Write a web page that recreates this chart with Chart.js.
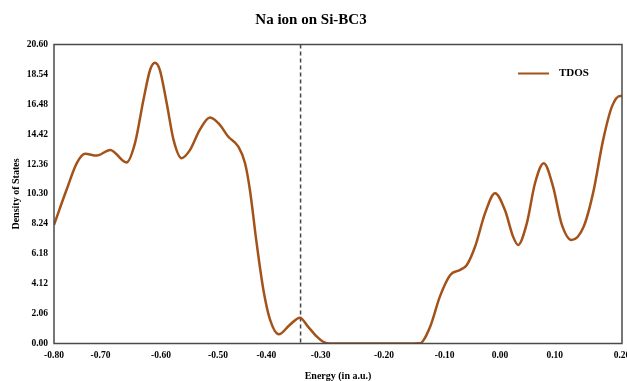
<!DOCTYPE html>
<html>
<head>
<meta charset="utf-8">
<title>Na ion on Si-BC3</title>
<script src="https://cdn.jsdelivr.net/npm/chart.js@4.4.1/dist/chart.umd.min.js"></script>
<style>
  html, body { margin: 0; padding: 0; background: #fff; }
  #wrap { width: 627px; height: 381px; }
</style>
</head>
<body>
<div id="wrap"><canvas id="dos" width="627" height="381"></canvas></div>
<script>
// energy (a.u.) and total DOS
const energy = [-0.800, -0.773, -0.751, -0.733, -0.708, -0.684, -0.657, -0.643, -0.629, -0.618,
                -0.610, -0.602, -0.590, -0.578, -0.564, -0.549, -0.532, -0.514, -0.496, -0.479,
                -0.458, -0.444, -0.434, -0.420, -0.406, -0.393, -0.377, -0.357, -0.338, -0.324,
                -0.307, -0.296, -0.285, -0.152, -0.141, -0.124, -0.108, -0.090, -0.072, -0.060,
                -0.045, -0.027, -0.009, 0.009, 0.024, 0.033, 0.049, 0.064, 0.080, 0.097,
                0.110, 0.125, 0.143, 0.157, 0.172, 0.185, 0.197, 0.200];
const tdos = [8.17, 10.59, 12.43, 13.07, 12.95, 13.34, 12.47, 13.80, 16.79, 18.86,
              19.35, 18.86, 16.56, 14.03, 12.77, 13.34, 14.72, 15.57, 15.06, 14.26,
              13.57, 12.42, 10.59, 6.91, 3.69, 1.62, 0.63, 1.28, 1.78, 1.20,
              0.47, 0.12, 0.00, 0.00, 0.01, 1.16, 3.23, 4.72, 5.07, 5.41,
              6.68, 8.98, 10.36, 9.20, 7.36, 6.79, 8.28, 11.04, 12.42, 10.81,
              8.28, 7.13, 8.05, 10.36, 14.03, 16.32, 17.06, 17.06];

const xTickValues = [-0.8, -0.7, -0.6, -0.5, -0.4, -0.3, -0.2, -0.1, 0.0, 0.1, 0.2];
const yTickValues = [0, 2.06, 4.12, 6.18, 8.24, 10.30, 12.36, 14.42, 16.48, 18.54, 20.60];
const fermiLevel = -0.337;

// the source x axis is not evenly spaced: where each tick sits across the plot (0 = left, 1 = right)
const xTickFractions = [0, 0.0819, 0.1884, 0.2887, 0.3738, 0.4695, 0.5810, 0.6879, 0.7852, 0.8815, 1.0];

const serif = "'Liberation Serif', 'Times New Roman', serif";
const lineColor = "#a3531a";

function segmentFor(arr, v) {
  let i = 1;
  while (i < arr.length - 1 && v > arr[i]) i++;
  return i;
}

function energyToFraction(e) {
  const i = segmentFor(xTickValues, e);
  const t = (e - xTickValues[i - 1]) / (xTickValues[i] - xTickValues[i - 1]);
  return xTickFractions[i - 1] + t * (xTickFractions[i] - xTickFractions[i - 1]);
}

function fractionToEnergy(f) {
  const i = segmentFor(xTickFractions, f);
  const t = (f - xTickFractions[i - 1]) / (xTickFractions[i] - xTickFractions[i - 1]);
  return xTickValues[i - 1] + t * (xTickValues[i] - xTickValues[i - 1]);
}

// linear scale with a piecewise mapping so the ticks land where the original put them
class WarpedScale extends Chart.LinearScale {
  getPixelForValue(value) {
    return this.getPixelForDecimal(energyToFraction(value));
  }
  getValueForPixel(pixel) {
    return fractionToEnergy(this.getDecimalForPixel(pixel));
  }
}
WarpedScale.id = "warped";
WarpedScale.defaults = Chart.LinearScale.defaults;
Chart.register(WarpedScale);

const overlay = {
  id: "overlay",
  beforeDatasetsDraw(chart) {
    const { ctx, chartArea: a, scales: { x } } = chart;
    const fx = x.getPixelForValue(fermiLevel);
    ctx.save();
    ctx.strokeStyle = "#444";
    ctx.lineWidth = 1.5;
    ctx.setLineDash([4, 3]);
    ctx.beginPath();
    ctx.moveTo(fx, a.top);
    ctx.lineTo(fx, a.bottom);
    ctx.stroke();
    ctx.restore();
  },
  afterDatasetsDraw(chart) {
    const { ctx, chartArea: a } = chart;
    const ds = chart.data.datasets[0];
    ctx.save();
    // frame round the plot
    ctx.strokeStyle = "#4a4a4a";
    ctx.lineWidth = 1.5;
    ctx.strokeRect(a.left, a.top, a.right - a.left, a.bottom - a.top);
    // legend, inside the plot top right
    const ly = a.top + 29;
    ctx.strokeStyle = ds.borderColor;
    ctx.lineWidth = 2;
    ctx.beginPath();
    ctx.moveTo(a.right - 104, ly);
    ctx.lineTo(a.right - 73, ly);
    ctx.stroke();
    ctx.fillStyle = "#000";
    ctx.font = "bold 11px " + serif;
    ctx.textBaseline = "middle";
    ctx.textAlign = "left";
    ctx.fillText(ds.label, a.right - 63, ly);
    ctx.restore();
  }
};

new Chart(document.getElementById("dos"), {
  type: "line",
  data: {
    datasets: [
      {
        label: "TDOS",
        data: energy.map((e, i) => ({ x: e, y: tdos[i] })),
        borderColor: lineColor,
        borderWidth: 2.5,
        pointRadius: 0,
        fill: false,
        cubicInterpolationMode: "monotone"
      }
    ]
  },
  options: {
    responsive: false,
    animation: false,
    layout: { padding: { left: 0, right: 5, top: 0, bottom: 0 } },
    plugins: {
      legend: { display: false },
      tooltip: { enabled: false },
      title: {
        display: true,
        text: "Na ion on Si-BC3",
        color: "#000",
        font: { family: serif, size: 15, weight: "bold", lineHeight: 1.2 },
        padding: { top: 11, bottom: 15.5 }
      }
    },
    scales: {
      x: {
        type: "warped",
        min: -0.8,
        max: 0.2,
        grid: { display: false, drawTicks: false },
        border: { display: false },
        ticks: {
          autoSkip: false,
          maxRotation: 0,
          padding: 6,
          color: "#000",
          font: { family: serif, size: 9.5, weight: "bold" },
          callback: (v) => Number(v).toFixed(2)
        },
        title: {
          display: true,
          text: "Energy (in a.u.)",
          color: "#000",
          font: { family: serif, size: 10, weight: "bold", lineHeight: 1 },
          padding: { top: 0, bottom: 0 }
        },
        afterBuildTicks: (scale) => { scale.ticks = xTickValues.map((v) => ({ value: v })); },
        afterFit: (scale) => { scale.height = 37.5; scale.paddingLeft = 0; scale.paddingRight = 0; }
      },
      y: {
        min: 0,
        max: 20.6,
        grid: { display: false, drawTicks: false },
        border: { display: false },
        ticks: {
          padding: 6,
          color: "#000",
          font: { family: serif, size: 9.5, weight: "bold" },
          callback: (v) => Number(v).toFixed(2)
        },
        title: {
          display: true,
          text: "Density of States",
          color: "#000",
          font: { family: serif, size: 10, weight: "bold", lineHeight: 1 },
          padding: { top: 11, bottom: 0 }
        },
        afterBuildTicks: (scale) => { scale.ticks = yTickValues.map((v) => ({ value: v })); },
        afterFit: (scale) => { scale.width = 54; scale.paddingTop = 0; scale.paddingBottom = 0; }
      }
    }
  },
  plugins: [overlay]
});
</script>
</body>
</html>
